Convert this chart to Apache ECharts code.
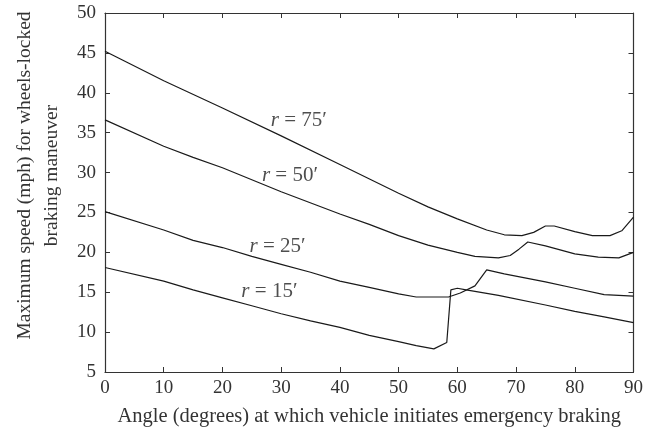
<!DOCTYPE html>
<html>
<head>
<meta charset="utf-8">
<script src="https://cdn.jsdelivr.net/npm/echarts@6/dist/echarts.min.js"></script>
<style>
  html, body { margin: 0; padding: 0; background: #fff; }
  #chart { width: 646px; height: 436px; }
</style>
</head>
<body>
<div id="chart"></div>
<script>
// 曲线数据 [角度, 速度]
var curve75 = [[0,45.2],[10,41.5],[20,38.1],[30,34.6],[40,31.0],[50,27.4],[55,25.7],[60,24.2],[65,22.8],[68,22.2],[71,22.1],[73,22.5],[75,23.3],[76.5,23.3],[80,22.6],[83,22.1],[86,22.1],[88,22.7],[90,24.4]];
var curve50 = [[0,36.6],[10,33.3],[15,31.9],[20,30.6],[30,27.6],[40,24.8],[45,23.5],[50,22.1],[55,20.9],[60,20.0],[63,19.5],[67,19.3],[69,19.6],[70.5,20.4],[72,21.3],[75,20.8],[80,19.8],[84,19.4],[87.5,19.3],[90,20.0]];
var curve25 = [[0,25.1],[10,22.8],[15,21.5],[20,20.6],[25,19.5],[30,18.5],[35,17.5],[40,16.4],[45,15.6],[50,14.8],[53,14.4],[58.5,14.4],[60.5,14.9],[63,15.8],[65,17.8],[68,17.3],[75,16.3],[80,15.5],[85,14.7],[90,14.5]];
var curve15 = [[0,18.1],[10,16.4],[15,15.3],[20,14.3],[25,13.3],[30,12.3],[35,11.4],[40,10.6],[45,9.6],[50,8.8],[53,8.3],[56,7.9],[58.2,8.7],[58.9,15.3],[60,15.5],[61.5,15.3],[67,14.6],[75,13.4],[80,12.6],[85,11.9],[90,11.2]];

// 曲线标注
var labelNames = ["75", "50", "25", "15"];
var labelPos = [[33, 36.5], [31.5, 29.6], [29.4, 20.7], [28, 15.1]];

var xMin = 0, xMax = 90, xStep = 10;
var yMin = 5, yMax = 50, yStep = 5;

var serif = "Liberation Serif";
var lineColor = "#1a1a1a";
var axisColor = "#333";

function boxAxis(extra) {
  var base = {
    type: "value",
    axisLine: { show: true, onZero: false, lineStyle: { color: axisColor, width: 1.2 } },
    axisTick: { show: true, inside: true, length: 5, lineStyle: { color: axisColor } },
    splitLine: { show: false },
    axisLabel: { show: false }
  };
  return Object.assign(base, extra);
}

var chart = echarts.init(document.getElementById("chart"));

var series = [];
var curves = [curve75, curve50, curve25, curve15];
for (var i = 0; i < curves.length; i += 1) {
  series.push({
    type: "line",
    data: curves[i],
    showSymbol: false,
    symbol: "none",
    animation: false,
    lineStyle: { color: lineColor, width: 1.2 }
  });
}

var labelData = [];
for (var j = 0; j < labelNames.length; j += 1) {
  labelData.push({ value: labelPos[j], name: labelNames[j] });
}
series.push({
  type: "scatter",
  symbolSize: 0,
  animation: false,
  data: labelData,
  label: {
    show: true,
    position: "inside",
    formatter: function (p) {
      return "{i|r}{n| = " + p.name + "\u2032}";
    },
    rich: {
      i: { fontFamily: serif, fontStyle: "italic", fontSize: 21, color: "#222" },
      n: { fontFamily: serif, fontSize: 21, color: "#222" }
    }
  }
});

var option = {
  backgroundColor: "#fff",
  animation: false,
  grid: { left: 105, right: 11, top: 13, bottom: 64 },
  xAxis: [
    boxAxis({
      min: xMin, max: xMax, interval: xStep,
      position: "bottom",
      name: "Angle (degrees) at which vehicle initiates emergency braking",
      nameLocation: "middle",
      nameGap: 34,
      nameTextStyle: { fontFamily: serif, fontSize: 20.5, color: "#333" },
      axisLabel: { show: true, margin: 7, fontFamily: serif, fontSize: 19, color: "#333" }
    }),
    boxAxis({ min: xMin, max: xMax, interval: xStep, position: "top" })
  ],
  yAxis: [
    boxAxis({
      min: yMin, max: yMax, interval: yStep,
      position: "left",
      name: "Maximum speed (mph) for wheels-locked\nbraking maneuver",
      nameLocation: "middle",
      nameGap: 40,
      nameTextStyle: { fontFamily: serif, fontSize: 19.5, color: "#333", lineHeight: 27, padding: [0, 0, 0, 34] },
      axisLabel: { show: true, margin: 9, fontFamily: serif, fontSize: 19, color: "#333" }
    }),
    boxAxis({ min: yMin, max: yMax, interval: yStep, position: "right" })
  ],
  series: series
};

chart.setOption(option);
</script>
</body>
</html>
